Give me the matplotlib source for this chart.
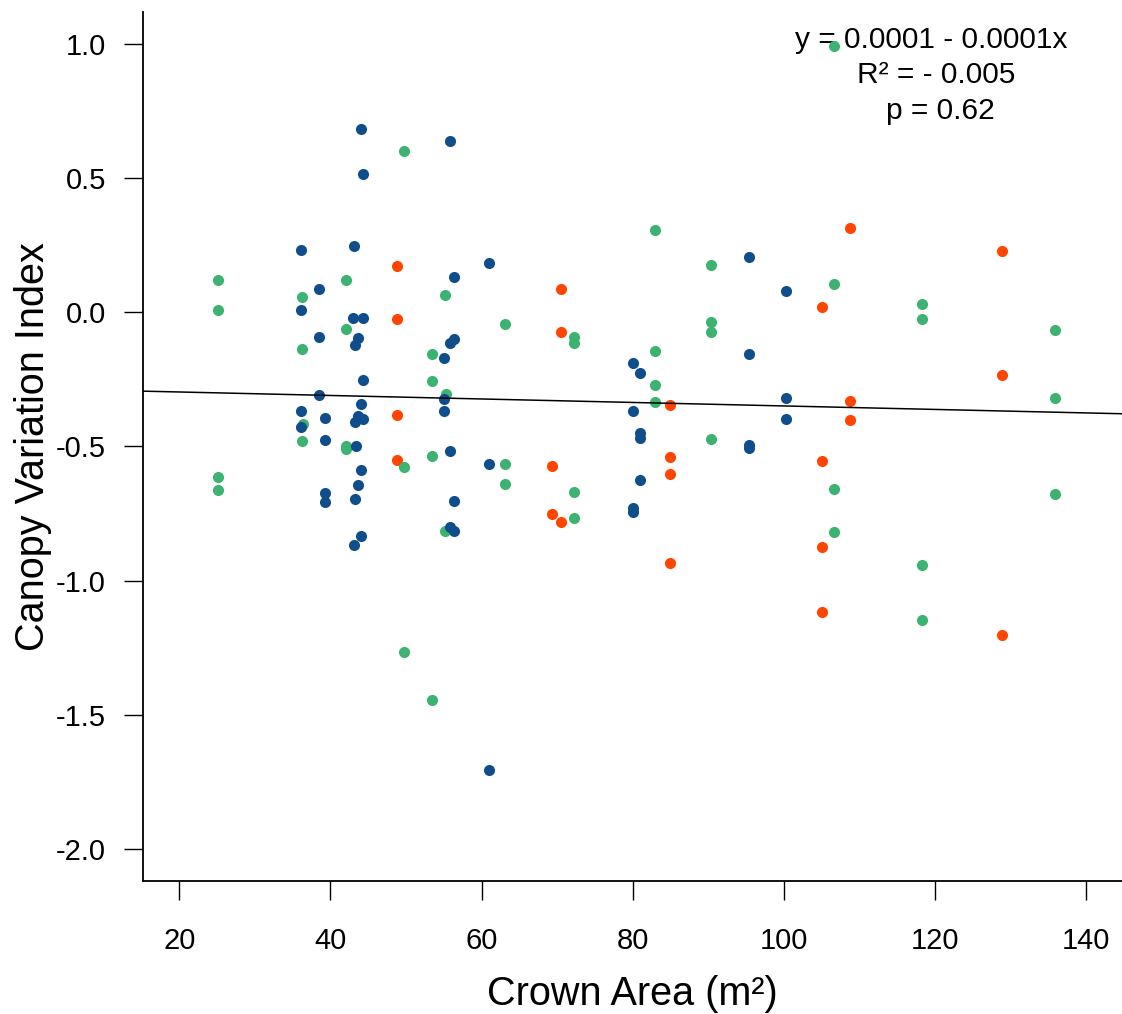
import matplotlib
matplotlib.use("Agg")
import matplotlib.pyplot as plt

plt.rcParams['font.family'] = ['Liberation Sans', 'DejaVu Sans']

# points, one group per colour
blue_x = [36.1, 38.5, 36.1, 38.5, 38.5, 36.1, 39.3, 36.1, 39.3, 39.3, 39.3,
          44.1, 55.8, 44.3, 43.1, 61.0, 56.3, 43.0, 44.3, 43.6, 43.3, 56.4, 55.8,
          55.0, 44.3, 55.0, 44.1, 55.0, 43.6, 44.3, 43.3, 43.4, 55.8, 61.0, 44.1,
          43.6, 43.3, 56.3, 55.8, 56.4, 44.1, 43.1,
          80.1, 81.0, 80.1, 81.0, 81.0, 81.0, 80.1, 80.1,
          95.4, 100.3, 95.4, 100.3, 100.3, 95.4, 95.4, 61.0]
blue_y = [0.232, 0.087, 0.007, -0.091, -0.309, -0.367, -0.393, -0.429, -0.475, -0.673, -0.708,
          0.683, 0.637, 0.515, 0.246, 0.185, 0.133, -0.020, -0.021, -0.097, -0.122, -0.101, -0.116,
          -0.169, -0.251, -0.325, -0.342, -0.368, -0.387, -0.396, -0.408, -0.499, -0.516, -0.565, -0.588,
          -0.644, -0.695, -0.703, -0.800, -0.816, -0.832, -0.869,
          -0.189, -0.226, -0.368, -0.449, -0.469, -0.626, -0.729, -0.744,
          0.206, 0.081, -0.154, -0.320, -0.396, -0.493, -0.505, -1.704]

green_x = [25.1, 36.3, 25.1, 36.3, 36.4, 36.3, 25.1, 25.1,
           49.8, 42.1, 55.2, 42.1, 63.1, 53.4, 53.4, 55.3, 42.1, 42.1, 53.4, 49.8, 63.1, 63.1, 55.2,
           83.0, 90.4, 72.3, 72.3, 90.4, 90.4, 83.0, 83.0, 83.0, 90.4, 72.3, 72.3,
           106.6, 106.6, 118.3, 118.3, 135.9, 135.9, 106.6, 135.9, 106.6, 118.3, 118.3,
           49.8, 53.4]
green_y = [0.119, 0.056, 0.007, -0.138, -0.418, -0.481, -0.613, -0.663,
           0.602, 0.121, 0.065, -0.061, -0.045, -0.156, -0.256, -0.306, -0.499, -0.511, -0.534, -0.577, -0.566, -0.639, -0.816,
           0.305, 0.175, -0.091, -0.113, -0.038, -0.073, -0.144, -0.270, -0.333, -0.473, -0.668, -0.766,
           0.994, 0.106, 0.030, -0.026, -0.065, -0.320, -0.657, -0.677, -0.818, -0.943, -1.148,
           -1.265, -1.446]

orange_x = [48.8, 48.8, 48.8, 48.8,
            70.5, 70.5, 85.0, 85.0, 69.3, 85.0, 69.3, 70.5, 85.0,
            108.8, 128.9, 105.1, 128.9, 108.8, 108.8, 105.1, 105.1, 105.1, 128.9]
orange_y = [0.173, -0.026, -0.382, -0.550,
            0.086, -0.075, -0.346, -0.541, -0.573, -0.604, -0.750, -0.782, -0.933,
            0.313, 0.230, 0.020, -0.233, -0.331, -0.403, -0.555, -0.873, -1.116, -1.203]

# fitted line as drawn
fit_intercept = -0.284
fit_slope = -0.00065
fit_x = [15, 145]
fit_y = [fit_intercept + fit_slope * v for v in fit_x]

x_ticks = [20, 40, 60, 80, 100, 120, 140]
y_ticks = [1.0, 0.5, 0.0, -0.5, -1.0, -1.5, -2.0]
y_tick_labels = ["1.0", "0.5", "0.0", "-0.5", "-1.0", "-1.5", "-2.0"]

fig = plt.figure(figsize=(11.22, 10.14), dpi=100)
ax = fig.add_axes([0.1272, 0.1312, 0.8728, 0.857])

ax.scatter(orange_x, orange_y, s=64, color="#ff4500", linewidths=0, zorder=2)
ax.scatter(green_x, green_y, s=64, color="#3cb371", linewidths=0, zorder=3)
ax.scatter(blue_x, blue_y, s=64, color="#104e8b", linewidths=0, zorder=4)
ax.plot(fit_x, fit_y, color="black", linewidth=1.1, zorder=5)

ax.set_xlim(15.16, 144.76)
ax.set_ylim(-2.119, 1.119)
ax.set_xticks(x_ticks)
ax.set_yticks(y_ticks)
ax.set_yticklabels(y_tick_labels)

ax.spines['top'].set_visible(False)
ax.spines['right'].set_visible(False)
ax.spines['left'].set_linewidth(1.3)
ax.spines['bottom'].set_linewidth(1.3)
ax.tick_params(axis='both', direction='out', length=13.5, width=1.0, labelsize=21)
ax.tick_params(axis='x', pad=20)
ax.tick_params(axis='y', pad=13)

ax.set_xlabel("Crown Area (m²)", fontsize=28.5, labelpad=14)
ax.set_ylabel("Canopy Variation Index", fontsize=28.5, labelpad=3)

ax.text(0.805, 0.968, "y = 0.0001 - 0.0001x", transform=ax.transAxes,
        ha='center', va='center', fontsize=21.5, zorder=1)
ax.text(0.81, 0.928, "R² = - 0.005", transform=ax.transAxes,
        ha='center', va='center', fontsize=21.5, zorder=1)
ax.text(0.815, 0.886, "p = 0.62", transform=ax.transAxes,
        ha='center', va='center', fontsize=21.5, zorder=1)

plt.savefig("out.png", dpi=100)
